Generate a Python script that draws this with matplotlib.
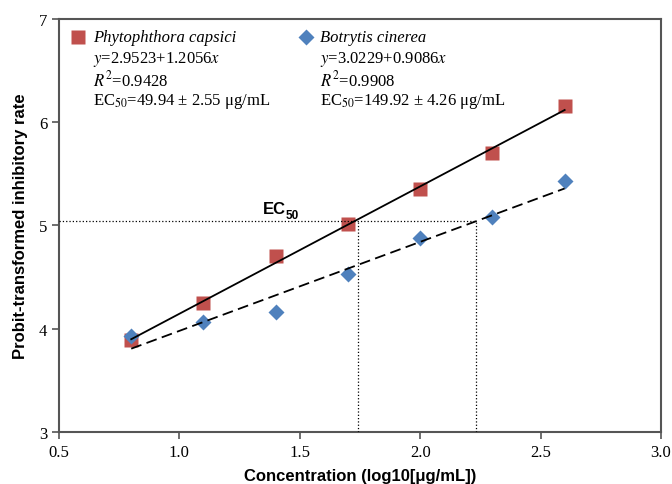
import numpy as np
import matplotlib.pyplot as plt

plt.rcParams['mathtext.fontset'] = 'stix'

conc = [0.8, 1.1, 1.4, 1.7, 2.0, 2.3, 2.6]
pc_probit = [3.89, 4.25, 4.70, 5.01, 5.35, 5.70, 6.16]
bc_probit = [3.93, 4.07, 4.16, 4.53, 4.88, 5.08, 5.43]
ec50_level = 5.04
ec50_x = [1.742, 2.232]

red = '#C0504D'
blue = '#4F81BD'
serif = 'Liberation Serif'
sans = 'Liberation Sans'

fig = plt.figure(figsize=(6.72, 4.85), dpi=100)
ax = fig.add_axes([0.0878, 0.1072, 0.8958, 0.8516])

x = np.array(conc)
ax.plot(x, pc_probit, 's', color=red, ms=10.5, mec='none', zorder=2)
ax.plot(x, bc_probit, 'D', color=blue, ms=8.5, mec='none', zorder=2)

# linear trendlines
p1 = np.polyfit(x, pc_probit, 1)
p2 = np.polyfit(x, bc_probit, 1)
xl = np.array([conc[0], conc[-1]])
ax.plot(xl, np.polyval(p1, xl), '-', color='black', lw=1.3, zorder=3)
ax.plot(xl, np.polyval(p2, xl), '--', color='black', lw=1.3, dashes=(6, 3), zorder=3)

# EC50 guide lines
ax.plot([0.5, ec50_x[1]], [ec50_level, ec50_level], ':', color='black', lw=0.9, zorder=3)
for e in ec50_x:
    ax.plot([e, e], [3, ec50_level], ':', color='black', lw=0.9, zorder=3)
ax.text(1.345, 5.12, 'EC', fontsize=12, ha='left', va='baseline',
        family=sans, fontweight='bold')
ax.annotate('50', xy=(1.345, 5.12), xytext=(16.5, -3.5), textcoords='offset points',
            fontsize=8.5, ha='left', va='baseline', family=sans, fontweight='bold')

ax.set_xlim(0.5, 3.0)
ax.set_ylim(3, 7)
ax.set_xticks([0.5, 1.0, 1.5, 2.0, 2.5, 3.0])
ax.set_xticklabels(['0.5', '1.0', '1.5', '2.0', '2.5', '3.0'])
ax.set_yticks([3, 4, 5, 6, 7])
for lab in ax.get_xticklabels() + ax.get_yticklabels():
    lab.set_family(serif)
    lab.set_fontsize(12)
ax.tick_params(direction='out', length=5, width=1.2, color='#555555')
for s in ax.spines.values():
    s.set_color('#555555')
    s.set_linewidth(1.5)

ax.set_xlabel('Concentration (log10[μg/mL])', fontsize=12, fontweight='bold',
              family=sans, labelpad=6)
ax.set_ylabel('Probit-transformed inhibitory rate', fontsize=12, fontweight='bold',
              family=sans, labelpad=8)

# legend-like annotations
fs = 12
ax.plot([0.577], [6.83], 's', color=red, ms=10, mec='none', clip_on=False)
ax.text(0.64, 6.83, 'Phytophthora capsici', style='italic', family=serif,
        fontsize=fs, va='center')
lines1 = [r'$y$=2.9523+1.2056$x$', r'$R^{2}$=0.9428', r'EC$_{50}$=49.94 ± 2.55 μg/mL']
lines2 = [r'$y$=3.0229+0.9086$x$', r'$R^{2}$=0.9908', r'EC$_{50}$=149.92 ± 4.26 μg/mL']
for i, t in enumerate(lines1):
    ax.text(0.64, 6.62 - i * 0.205, t, family=serif, fontsize=fs, va='center')
ax.plot([1.524], [6.83], 'D', color=blue, ms=8, mec='none', clip_on=False)
ax.text(1.585, 6.83, 'Botrytis cinerea', style='italic', family=serif,
        fontsize=fs, va='center')
for i, t in enumerate(lines2):
    ax.text(1.585, 6.62 - i * 0.205, t, family=serif, fontsize=fs, va='center')

fig.savefig('out.png', dpi=100)
